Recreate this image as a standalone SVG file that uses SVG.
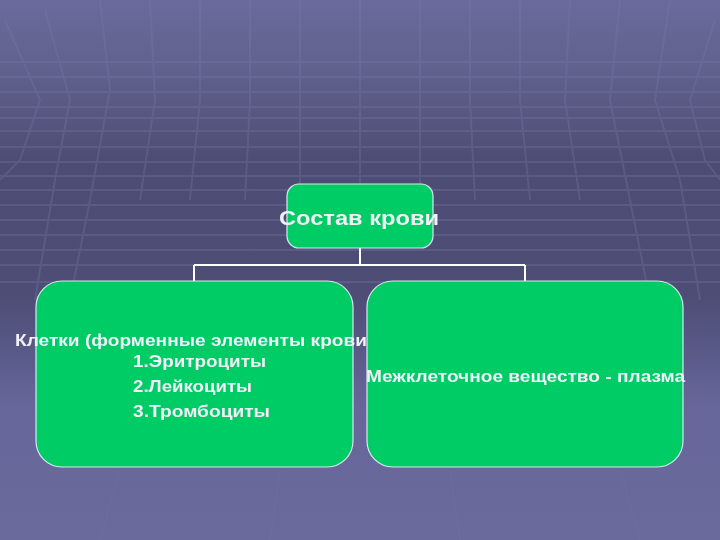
<svg xmlns="http://www.w3.org/2000/svg" width="720" height="540" viewBox="0 0 720 540">
<defs>
<linearGradient id="bg" x1="0" y1="0" x2="0" y2="1">
<stop offset="0" stop-color="#6a6a9c"/>
<stop offset="0.12" stop-color="#62628f"/>
<stop offset="0.3" stop-color="#4c4c74"/>
<stop offset="0.55" stop-color="#4d4d76"/>
<stop offset="0.75" stop-color="#66669a"/>
<stop offset="1" stop-color="#6a6a9c"/>
</linearGradient>
<style>
.grid{stroke:#7c7cab;stroke-width:2;opacity:0.3;fill:none}
.box{fill:#00cc66;stroke:#d8e8f0;stroke-width:1.2}
.conn{stroke:#ffffff;stroke-width:2;fill:none}
.t{font-family:"Liberation Sans",Arial,sans-serif;font-weight:bold;fill:#f0f0f8}
</style>
</defs>
<rect x="0" y="0" width="720" height="540" fill="url(#bg)"/>
<g id="background-grid" class="grid">
<path d="M0 62H720M0 77H720M0 92H720M0 107H720M0 118H720M0 131H720M0 147H720M0 162H720M0 176H720M0 190H720M0 205H720M0 220H720M0 235H720M0 250H720M0 265H720M0 282H720"/>
<path d="M5 20L40 100L20 160L0 180M45 10L70 100L55 180L35 300M100 0L110 90L90 200L70 300M150 0L155 100L140 200M200 0L200 100L190 200M250 0L250 100L245 200M300 0L300 200M360 0L360 200M420 0L420 200M470 0L470 100L475 200M520 0L520 100L530 200M570 0L565 100L580 200M620 0L610 100L630 200L650 300M670 0L655 100L680 180L700 300M715 20L690 100L705 160L720 180"/>
<path d="M120 470L100 540M280 470L270 540M450 470L460 540M620 470L640 540" opacity="0.5"/>
</g>
<g id="connectors" class="conn">
<path d="M360 248V265M194 265H525M194 265V281M525 265V281"/>
</g>
<g id="node-root">
<rect class="box" x="287" y="184" width="146" height="64" rx="12"/>
<text class="t" x="359" y="225" font-size="21" text-anchor="middle" textLength="160" lengthAdjust="spacingAndGlyphs">Состав крови</text>
</g>
<g id="node-cells">
<rect class="box" x="36" y="281" width="317" height="186" rx="26"/>
<text class="t" x="15" y="346" font-size="17" textLength="352" lengthAdjust="spacingAndGlyphs">Клетки (форменные элементы крови</text>
<text class="t" x="133" y="367" font-size="17" textLength="133" lengthAdjust="spacingAndGlyphs">1.Эритроциты</text>
<text class="t" x="133" y="392" font-size="17" textLength="119" lengthAdjust="spacingAndGlyphs">2.Лейкоциты</text>
<text class="t" x="133" y="417" font-size="17" textLength="137" lengthAdjust="spacingAndGlyphs">3.Тромбоциты</text>
</g>
<g id="node-plasma">
<rect class="box" x="367" y="281" width="316" height="186" rx="26"/>
<text class="t" x="366" y="382" font-size="17" textLength="319" lengthAdjust="spacingAndGlyphs">Межклеточное вещество - плазма</text>
</g>
</svg>
